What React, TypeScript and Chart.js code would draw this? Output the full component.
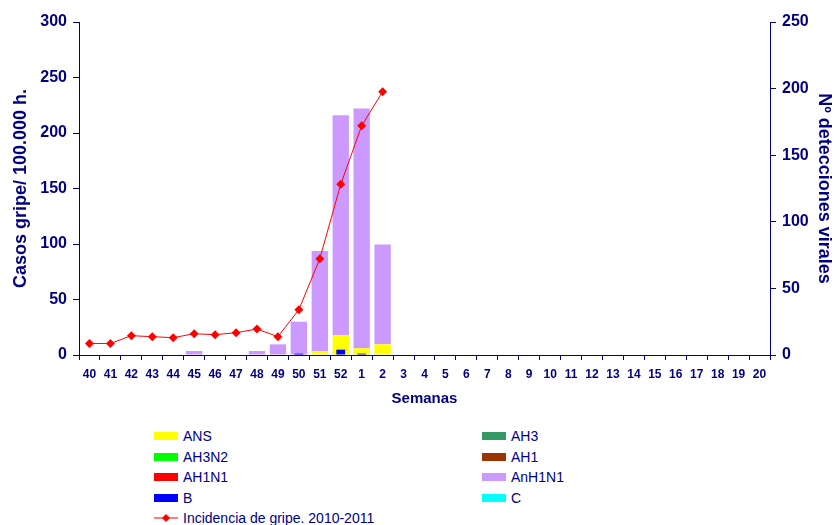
import React, { useEffect, useRef } from "react";
import { Chart, registerables } from "chart.js";

Chart.register(...registerables);

const weeks = ["40","41","42","43","44","45","46","47","48","49","50","51","52","1","2","3","4","5","6","7","8","9","10","11","12","13","14","15","16","17","18","19","20"];

// Incidencia de gripe (casos / 100.000 h.) – left axis
const incidencia = [10.4, 10.4, 17.4, 16.5, 15.6, 19.2, 18.3, 20.1, 23.4, 16.5, 40.8, 86.8, 153.8, 206.5, 237.2, null, null, null, null, null, null, null, null, null, null, null, null, null, null, null, null, null, null];

// Detecciones virales – right axis
const ans = [0, 0, 0, 0, 0, 0, 0, 0, 0, 0, 0, 3, 15, 5, 8, null, null, null, null, null, null, null, null, null, null, null, null, null, null, null, null, null, null];
const ah3n2 = [0, 0, 0, 0, 0, 0, 0, 0, 0, 0, 0, 0, 0, 0, 0, null, null, null, null, null, null, null, null, null, null, null, null, null, null, null, null, null, null];
const ah1n1 = [0, 0, 0, 0, 0, 0, 0, 0, 0, 0, 0, 0, 0, 0, 0, null, null, null, null, null, null, null, null, null, null, null, null, null, null, null, null, null, null];
const ah3 = [0, 0, 0, 0, 0, 0, 0, 0, 0, 0, 0, 0, 0, 0, 0, null, null, null, null, null, null, null, null, null, null, null, null, null, null, null, null, null, null];
const ah1 = [0, 0, 0, 0, 0, 0, 0, 0, 0, 0, 0, 0, 0, 0, 0, null, null, null, null, null, null, null, null, null, null, null, null, null, null, null, null, null, null];
const anh1n1 = [0, 0, 0, 0, 0, 3, 0, 0, 3, 8, 25, 75, 165, 180, 75, null, null, null, null, null, null, null, null, null, null, null, null, null, null, null, null, null, null];
const cVir = [0, 0, 0, 0, 0, 0, 0, 0, 0, 0, 0, 0, 0, 0, 0, null, null, null, null, null, null, null, null, null, null, null, null, null, null, null, null, null, null];
const bVir = [0, 0, 0, 0, 0, 0, 0, 0, 0, 0, 1, 0, 4, 1, 0, null, null, null, null, null, null, null, null, null, null, null, null, null, null, null, null, null, null];

const leftTicks = [0, 50, 100, 150, 200, 250, 300];
const rightTicks = [0, 50, 100, 150, 200, 250];

const NAVY = "#000080";
const FONT = "'Liberation Sans', Arial, sans-serif";

const stackedSeries = [
  { label: "ANS", data: ans, color: "#FFFF00" },
  { label: "AH3N2", data: ah3n2, color: "#00FF00" },
  { label: "AH1N1", data: ah1n1, color: "#FF0000" },
  { label: "AH3", data: ah3, color: "#339966" },
  { label: "AH1", data: ah1, color: "#993300" },
  { label: "C", data: cVir, color: "#00FFFF" },
  { label: "AnH1N1", data: anh1n1, color: "#CC99FF" },
];
const bSeries = { label: "B", data: bVir, color: "#0000FF" };
const lineSeries = { label: "Incidencia de gripe. 2010-2011", data: incidencia, color: "#FF0000" };

const legendCol1 = ["ANS", "AH3N2", "AH1N1", "B"];
const legendCol2 = ["AH3", "AH1", "AnH1N1", "C"];

function colorOf(name: string): string {
  if (name === "B") return bSeries.color;
  const s = stackedSeries.find((x) => x.label === name);
  return s ? s.color : "#000";
}

function LegendBox({ name, x, y }: { name: string; x: number; y: number }) {
  return (
    <div style={{ position: "absolute", left: x, top: y - 10, height: 20, display: "flex", alignItems: "center", whiteSpace: "nowrap" }}>
      <div style={{ width: 24, height: 8, background: colorOf(name), marginRight: 5 }} />
      <span style={{ fontFamily: FONT, fontSize: 14, color: NAVY }}>{name}</span>
    </div>
  );
}

export default function App() {
  const ref = useRef<HTMLCanvasElement | null>(null);

  useEffect(() => {
    if (!ref.current) return;
    const datasets: any[] = [
      {
        type: "line",
        label: lineSeries.label,
        data: lineSeries.data,
        borderColor: lineSeries.color,
        backgroundColor: lineSeries.color,
        borderWidth: 1,
        pointStyle: "rectRot",
        pointRadius: 4.5,
        pointBorderWidth: 0,
        yAxisID: "yL",
        xAxisID: "x",
        order: 0,
        spanGaps: false,
      },
      {
        type: "bar",
        label: bSeries.label,
        data: bSeries.data,
        backgroundColor: bSeries.color,
        borderWidth: 0,
        yAxisID: "yR",
        xAxisID: "x",
        stack: "b",
        grouped: false,
        barPercentage: 0.42,
        categoryPercentage: 1,
        order: 1,
      },
      ...stackedSeries.map((s, i) => ({
        type: "bar",
        label: s.label,
        data: s.data,
        backgroundColor: s.color,
        borderWidth: 0,
        yAxisID: "yR",
        xAxisID: "x",
        stack: "main",
        barPercentage: 0.78,
        categoryPercentage: 1,
        order: 2 + i,
      })),
    ];

    const tickFont = { family: FONT, size: 16, weight: "bold" as const };
    const chart = new Chart(ref.current, {
      type: "bar",
      data: { labels: weeks, datasets },
      options: {
        animation: false,
        responsive: true,
        maintainAspectRatio: false,
        layout: { padding: { top: 22, bottom: 0, left: 0, right: 0 } },
        plugins: { legend: { display: false }, tooltip: { enabled: false } },
        scales: {
          x: {
            type: "category",
            stacked: true,
            offset: true,
            grid: { drawOnChartArea: false, drawTicks: true, tickLength: 5, color: NAVY, offset: true },
            border: { color: NAVY, width: 1 },
            ticks: { color: NAVY, font: { family: FONT, size: 12, weight: "bold" }, padding: 7, maxRotation: 0, autoSkip: false },
            title: { display: true, text: "Semanas", color: NAVY, font: { family: FONT, size: 15, weight: "bold" }, padding: { top: 4, bottom: 4 } },
            afterFit: (s: any) => { s.height = 57; },
          },
          yL: {
            type: "linear",
            position: "left",
            min: 0,
            max: 300,
            afterBuildTicks: (s: any) => { s.ticks = leftTicks.map((v) => ({ value: v })); },
            grid: { drawOnChartArea: false, tickLength: 6, color: NAVY },
            border: { color: NAVY, width: 1 },
            ticks: { color: NAVY, font: tickFont, padding: 6 },
            title: { display: true, text: "Casos gripe/ 100.000 h.", color: NAVY, font: { family: FONT, size: 18, weight: "bold" }, padding: { top: 10, bottom: 0 } },
            afterFit: (s: any) => { s.width = 79; },
          },
          yR: {
            type: "linear",
            position: "right",
            stacked: true,
            min: 0,
            max: 250,
            afterBuildTicks: (s: any) => { s.ticks = rightTicks.map((v) => ({ value: v })); },
            grid: { drawOnChartArea: false, tickLength: 6, color: NAVY },
            border: { color: NAVY, width: 1 },
            ticks: { color: NAVY, font: tickFont, padding: 6 },
            title: { display: true, text: "Nº detecciones virales", color: NAVY, font: { family: FONT, size: 18, weight: "bold" }, padding: { top: 0, bottom: 0 } },
            afterFit: (s: any) => { s.width = 65; },
          },
        },
      } as any,
    });
    return () => chart.destroy();
  }, []);

  const rowY = [436, 456.7, 477.3, 498, 518.3];

  return (
    <div style={{ position: "absolute", left: 0, top: 0, width: 835, height: 525, background: "#fff", overflow: "hidden" }}>
      <div style={{ position: "absolute", left: 0, top: 0, width: 835, height: 412 }}>
        <canvas ref={ref} />
      </div>
      {legendCol1.map((n, i) => (
        <LegendBox key={n} name={n} x={154} y={rowY[i]} />
      ))}
      {legendCol2.map((n, i) => (
        <LegendBox key={n} name={n} x={482} y={rowY[i]} />
      ))}
      <div style={{ position: "absolute", left: 154, top: rowY[4] - 10, height: 20, display: "flex", alignItems: "center", whiteSpace: "nowrap" }}>
        <svg width={24} height={10} style={{ marginRight: 5 }}>
          <line x1={0} y1={5} x2={24} y2={5} stroke={lineSeries.color} strokeWidth={1} />
          <polygon points="12,1 16,5 12,9 8,5" fill={lineSeries.color} />
        </svg>
        <span style={{ fontFamily: FONT, fontSize: 14, color: NAVY }}>{lineSeries.label}</span>
      </div>
    </div>
  );
}
